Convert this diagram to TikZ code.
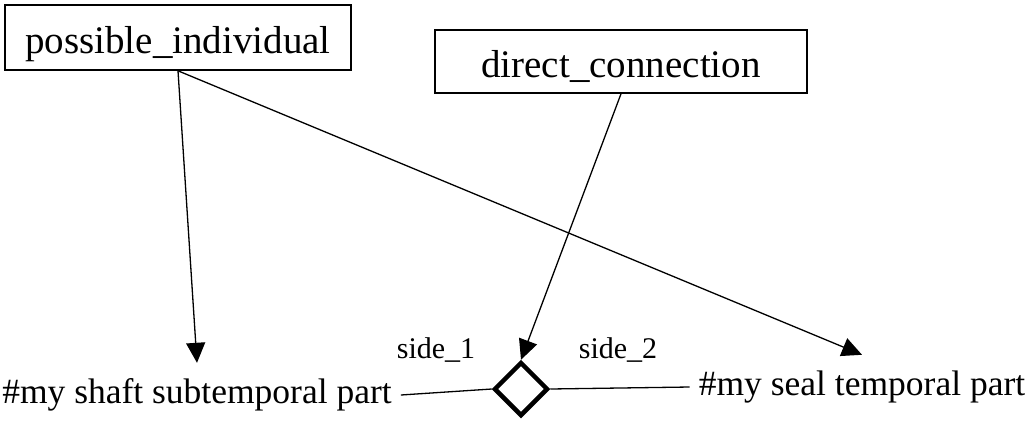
\documentclass[tikz,border=0pt]{standalone}
\usepackage{fontspec}
\setmainfont{Liberation Serif}
\usetikzlibrary{arrows.meta,shapes.geometric}
\begin{document}
\begin{tikzpicture}[x=1pt,y=-1pt,
  box/.style={draw,line width=1.6pt,inner sep=0pt,text height=31pt,text depth=0pt,font=\fontsize{39}{44}\selectfont},
  lbl/.style={inner xsep=9pt,inner ysep=16pt,text height=24pt,text depth=8pt,anchor=base,font=\fontsize{35.5}{40}\selectfont},
  sidelbl/.style={inner sep=0pt,font=\fontsize{30}{34}\selectfont},
  conn/.style={line width=1.3pt},
  arr/.style={conn,-{Triangle[length=20pt,width=19pt]}},
  dia/.style={diamond,draw,line width=4.5pt,minimum width=54pt,minimum height=54pt,inner sep=0pt,aspect=1}]
\useasboundingbox (0,0) rectangle (1031,424);
\node[box,minimum width=346pt,minimum height=65pt] (pi) at (178,37.5) {possible\_individual};
\node[box,minimum width=372pt,minimum height=63pt] (dc) at (621,61.5) {direct\_connection};
\node[lbl] (shaft) at (197,403) {\#my shaft subtemporal part};
\node[lbl] (seal) at (862,395) {\#my seal temporal part};
\node[dia] (d) at (521,389) {};
\node[sidelbl] (s1) at (436,350) {side\_1};
\node[sidelbl] (s2) at (618,350) {side\_2};
\draw[arr] (pi.south) -- (shaft.north);
\draw[arr] (pi.south) -- (seal.north);
\draw[arr] (dc.south) -- (d.north);
\draw[conn] (shaft.east) -- (d.west);
\draw[conn] (d.east) -- (seal.west);
\end{tikzpicture}
\end{document}
